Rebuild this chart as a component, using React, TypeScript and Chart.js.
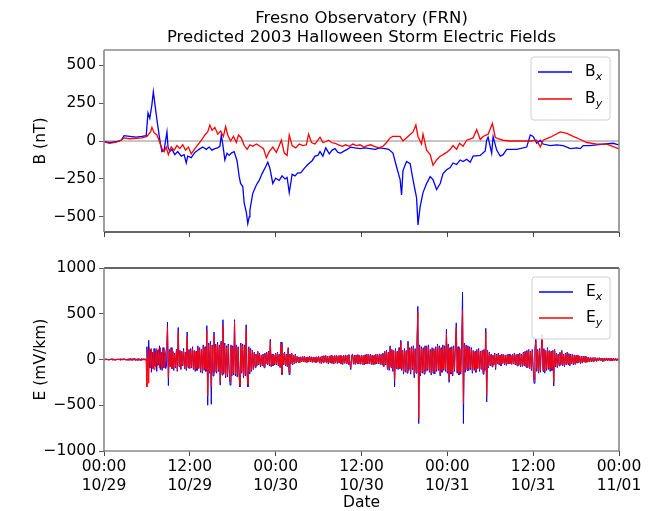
import React, { useEffect, useRef } from "react";
import { Chart, registerables } from "chart.js";

Chart.register(...registerables);

// ---------------- data ----------------
const titleLines = ["Fresno Observatory (FRN)", "Predicted 2003 Halloween Storm Electric Fields"];
const bAxisTitle = "B (nT)";
const eAxisTitle = "E (mV/km)";
const xAxisTitle = "Date";

const xTickHours = [0, 12, 24, 36, 48, 60, 72];
const xTickTimes = ["00:00", "12:00", "00:00", "12:00", "00:00", "12:00", "00:00"];
const xTickDates = ["10/29", "10/29", "10/30", "10/30", "10/31", "10/31", "11/01"];
const bTicks = [-500, -250, 0, 250, 500];
const eTicks = [-1000, -500, 0, 500, 1000];

// hours since 2003-10-29 00:00
const bxHours = [
  0, 0.8, 1.7, 2.4, 2.8, 3.6, 4.5, 5.3, 5.9, 6.15,
  6.4, 6.7, 6.9, 7.1, 7.4, 7.7, 7.9, 8.1, 8.4, 8.8,
  8.95, 9.2, 9.5, 9.9, 10.3, 10.8, 11.2, 11.5, 11.7, 12.2,
  12.7, 13.3, 13.8, 14.3, 14.7, 15.1, 15.5, 15.9, 16.2, 16.4,
  16.6, 16.9, 17.2, 17.5, 17.8, 18.2, 18.6, 18.9, 19.1, 19.4,
  19.6, 19.9, 20.1, 20.3, 20.4, 20.8, 21.3, 21.7, 22.1, 22.6,
  22.9, 23.2, 23.6, 24.0, 24.5, 24.9, 25.3, 25.6, 25.9, 26.3,
  26.7, 27.1, 27.5, 28.0, 28.5, 29.1, 29.5, 29.9, 30.2, 30.6,
  31.0, 31.5, 31.9, 32.3, 32.7, 33.1, 33.6, 34.0, 34.5, 35.1,
  35.8, 36.5, 37.2, 37.9, 38.6, 39.3, 39.8, 40.4, 40.9, 41.4,
  41.6, 41.8, 42.3, 42.8, 43.2, 43.7, 43.9, 44.2, 44.6, 45.1,
  45.6, 46.0, 46.5, 47.0, 47.4, 47.9, 48.4, 48.8, 49.3, 49.8,
  50.2, 50.7, 51.2, 51.6, 52.6, 53.3, 53.5, 53.7, 54.2, 54.4,
  54.9, 55.4, 55.8, 56.3, 57.7, 59.1, 59.6, 60.0, 60.5, 61.0,
  61.4, 62.4, 63.3, 64.2, 65.2, 66.1, 66.6, 67.0, 67.9, 69.8,
  71.2, 71.9, 72,
];
const bxValues = [
  -5, -10, -5, 5, 35, 30, 25, 30, 35, 185,
  150, 240, 325, 250, 140, 40, -20, -70, -60, 60,
  -40, -70, -55, -90, -70, -100, -90, -145, -100, -110,
  -75, -55, -40, -55, -40, -60, -50, -45, -35, 40,
  -20, -125, -80, -95, -80, -70, -130, -235, -280, -300,
  -410, -470, -545, -500, -455, -345, -290, -260, -215, -170,
  -140, -180, -280, -245, -260, -230, -250, -240, -340, -220,
  -230, -210, -210, -180, -155, -130, -100, -95, -70, -100,
  -45, -85, -60, -50, -75, -80, -65, -55, -40, -45,
  -50, -45, -50, -55, -45, -50, -55, -80, -170, -255,
  -355, -195, -135, -150, -255, -375, -553, -432, -340, -280,
  -235, -255, -320, -280, -215, -190, -175, -145, -155, -125,
  -135, -120, -140, -100, -95, -65, 5, 25, -80, 30,
  -60, -100, -90, -55, -55, -40, 40, 30, -15, 5,
  -20, -30, -25, -30, -50, -45, -50, -30, -30, -20,
  -15, -25, -20,
];

const byHours = [
  0, 0.8, 1.7, 2.4, 2.8, 3.6, 4.5, 5.3, 6.0, 6.5,
  6.7, 7.0, 7.4, 7.8, 8.1, 8.4, 8.7, 9.0, 9.4, 9.8,
  10.2, 10.6, 11.0, 11.4, 11.8, 12.2, 12.7, 13.2, 13.7, 14.1,
  14.5, 14.8, 15.1, 15.5, 15.9, 16.3, 16.7, 17.0, 17.3, 17.7,
  18.1, 18.5, 18.8, 19.2, 19.6, 20.0, 20.4, 20.8, 21.3, 21.8,
  22.3, 22.7, 23.1, 23.6, 24.1, 24.5, 24.8, 25.2, 25.6, 25.9,
  26.3, 26.8, 27.3, 27.8, 28.3, 28.6, 29.0, 29.5, 30.2, 30.6,
  31.0, 31.4, 31.8, 32.3, 32.8, 33.3, 33.8, 34.3, 34.8, 35.3,
  35.8, 36.3, 36.8, 37.3, 37.8, 38.4, 39.0, 39.5, 40.0, 40.4,
  41.4, 41.8, 42.5, 43.2, 43.6, 43.9, 44.4, 44.6, 45.1, 45.6,
  46.0, 46.5, 47.0, 47.4, 47.9, 48.4, 48.8, 49.3, 49.7, 50.2,
  50.7, 51.6, 52.1, 52.6, 53.0, 53.7, 54.3, 54.7, 55.1, 55.8,
  56.8, 58.2, 59.6, 60.5, 61.0, 61.4, 62.4, 63.8, 64.7, 65.6,
  66.6, 67.5, 68.9, 70.3, 71.9, 72,
];
const byValues = [
  -5, -15, -8, 5, 20, 15, 18, 20, 30, 60,
  90, 55, 40, -10, -50, -70, -40, -90, -40, -60,
  -30, -50, -25, -60, -40, -85, -50, -20, 10, 40,
  60, 105, 70, 90, 45, 65, 30, 95, 40, 0,
  30, -10, 40, 20, -30, -55, -25, -35, -20, -35,
  -50, -110, -70, -40, -75, -30, 5, -80, -95, 40,
  -30, -45, -20, -30, -25, 45, -10, -20, 25, -10,
  -5, 5, -10, -15, -25, -35, -25, -35, -20, -30,
  -25, -40, -30, -25, -35, -45, -35, -10, 20, 30,
  30, 0, 30, 60, 105, 30, -20, 45, -60, -90,
  -160, -125, -100, -90, -75, -55, -30, -55, -15, -35,
  5, 20, 75, 10, 30, 45, 115, 25, 15, 5,
  0, 0, 0, 5, -40, 5, 25, 60, 50, 30,
  10, -10, -20, -20, -50, -50,
];

// electric field samples every 7.5 minutes (one row = 3 hours)
const E_STEP_HOURS = 0.125;
const exValues = [
  5, -7, 8, -4, 6, -9, 4, -6, 10, -5, 7, -8, 5, -10, 6, -4, 8, -7, 9, -5, 6, -8, 11, -6,
  7, -9, 5, -11, 8, -6, 12, -10, 9, -7, 14, -12, 6, -8, 10, -9, 7, -13, 11, -8, 9, -6, 8, -10,
  140, -120, 210, -90, 110, -140, 80, -100, 120, -70, 90, -130, 100, -60, 150, -110, 80, -120, 130, -90, 70, -100, -60, 410,
  -285, 110, -80, 130, -100, 90, -120, 70, -90, 110, -130, 350, -80, 100, -110, 90, -70, 120, -100, 80, -120, 300, -90, 110,
  -100, 120, -90, 140, -110, 100, -130, 90, -120, 150, -100, 130, -140, 110, -150, 160, -120, 140, -130, 370, -500, 180, -150, 200,
  -490, 160, -180, 300, -140, 170, -150, 190, -130, 160, -280, 200, -170, 435, -160, 180, -200, 150, -190, 170, -140, -280, 160, -180,
  150, -170, 435, -180, 160, -190, 140, -170, -300, 180, -150, 170, -200, 160, -180, 380, -170, -300, 140, -160, 120, -130, 100, -110,
  80, -90, 60, -70, 90, -60, 70, -80, 50, -70, 60, -90, 70, -50, 80, -60, 90, -70, 220, -80, 60, -70, 50, -60,
  70, -60, 80, -70, 60, -90, 190, -165, 70, -60, 80, -70, 60, -80, 130, -165, 60, -50, 70, -60, 50, -45, 60, -40,
  35, -30, 28, -35, 30, -25, 32, -28, 35, -30, 25, -32, 30, -28, 35, -25, 30, -33, 28, -30, 25, -35, 30, -28,
  35, -40, 30, -45, 38, -35, 42, -30, 45, -40, 35, -48, 40, -38, 45, -42, 38, -50, 45, -40, 50, -45, 42, -38,
  45, -50, 40, -55, 48, -42, 50, -45, 45, -52, 55, -48, -110, 50, 58, -52, 48, -55, 50, -45, 55, -50, 45, -52,
  50, -55, 45, -60, 52, -48, 58, -50, 55, -45, 60, -55, 50, -58, 45, -52, 60, -50, 55, -48, 62, -55, 58, -60,
  70, -80, 90, -60, 100, -110, 80, -120, 150, -90, 110, -130, 100, -300, 120, -100, 90, -110, 130, -100, 210, -120, 100, -160,
  120, -140, 100, -150, 200, -120, 130, -160, 140, -110, 150, -200, 120, -150, 170, 580, -700, 160, -180, 140, -150, 130, -160, 150,
  -130, 150, -120, 160, -140, 110, -170, 130, -150, 120, -160, 140, -130, 170, -120, 150, -180, 130, -140, 160, -120, 150, -130, 330,
  -150, 170, -250, 130, -160, 140, -180, 150, -130, 160, 400, -150, 140, -170, 120, -160, 150, 735, -700, 180, -140, 160, -120, 150,
  -120, 140, -110, 130, -150, 100, -120, 90, -140, 110, -100, 120, -130, 90, -110, 100, -160, 110, -120, 340, -465, 100, -90, 80,
  -70, 60, -80, 50, -60, 70, -110, 60, -50, 70, -60, 50, -70, 60, -45, 55, -60, 50, -65, 55, -50, 60, -45, 50,
  -55, 60, -50, 70, -60, 55, -70, 60, -65, 70, -80, 60, -75, 80, -70, 90, -85, 100, -90, 110, -100, 90, -120, 110,
  -100, -260, 120, 230, -130, 110, -150, 120, -140, 110, 275, -130, 120, -150, 100, -120, 130, -110, 100, -130, 90, -120, 100, -290,
  110, -80, 70, -90, 60, -70, 80, -60, 100, -70, 60, -80, 70, -60, 80, -55, 65, -70, 60, -50, 55, -60, 50, -55,
  45, -40, 50, -35, 40, -45, 35, -40, 38, -30, 35, -32, 28, -30, 25, -28, 22, -25, 20, -24, 22, -18, 20, -22,
  18, -15, 20, -12, 16, -18, 14, -20, 15, -12, 18, -14, 16, -12, 14, -15, 12, -16, 14, -10, 12, -14, 10, -12, 8,
];
const eyValues = [
  -6, 8, -5, 9, -7, 5, -8, 6, -4, 9, -6, 7, -9, 5, -7, 8, -5, 6, -8, 7, -5, 9, -6, 8,
  -8, 6, -10, 9, -7, 11, -9, 8, -12, 10, -6, 9, -11, 7, -8, 12, -9, 6, -10, 8, -7, 10, -9, 7,
  -300, 110, -260, 130, -90, 120, -100, 80, -110, 90, -80, 120, -70, 110, -90, 130, -100, 70, -90, 110, -80, 90, 120, 350,
  -200, 90, -70, 110, -90, 80, -100, 60, -80, 100, -110, 300, -70, 90, -100, 80, -60, 100, -90, 70, -100, 250, -80, 100,
  -90, 100, -80, 120, -100, 90, -110, 80, -100, 130, -90, 110, -120, 100, -130, 140, -100, 120, -110, 320, -400, 160, -130, 170,
  -300, 140, -160, 250, -120, 150, -130, 170, -110, 140, -250, 180, -150, 380, -140, 160, -180, 130, -170, 150, -120, -240, 140, -160,
  130, -150, 420, -160, 140, -170, 120, -150, -280, 160, -130, 150, -180, 140, -160, 330, -150, -270, 120, -140, 100, -110, 90, -100,
  70, -80, 50, -60, 80, -50, 60, -70, 45, -60, 50, -80, 60, -45, 70, -50, 80, -60, 200, -70, 50, -60, 45, -50,
  60, -50, 70, -60, 50, -80, 170, -140, 60, -50, 70, -60, 50, -70, 110, -140, 50, -45, 60, -50, 45, -40, 50, -35,
  30, -26, 24, -30, 26, -22, 28, -25, 30, -26, 22, -28, 26, -24, 30, -22, 26, -28, 24, -26, 22, -30, 26, -24,
  30, -35, 26, -40, 34, -30, 36, -26, 40, -35, 30, -42, 35, -33, 40, -36, 34, -44, 40, -35, 44, -40, 36, -34,
  40, -44, 35, -48, 42, -36, 44, -40, 40, -46, 48, -42, -90, 44, 50, -46, 42, -48, 44, -40, 48, -44, 40, -46,
  44, -48, 40, -52, 46, -42, 50, -44, 48, -40, 52, -48, 44, -50, 40, -46, 52, -44, 48, -42, 54, -48, 50, -52,
  60, -70, 80, -50, 90, -100, 70, -100, 130, -80, 100, -110, 90, -230, 100, -90, 80, -100, 110, -90, 190, -100, 90, -140,
  100, -120, 90, -130, 170, -100, 110, -140, 120, -90, 130, -170, 100, -130, 150, 520, -650, 140, -160, 120, -130, 110, -140, 130,
  -110, 130, -100, 140, -120, 90, -150, 110, -130, 100, -140, 120, -110, 150, -100, 130, -160, 110, -120, 140, -100, 130, -110, 280,
  -130, 150, -220, 110, -140, 120, -160, 130, -110, 140, 350, -130, 120, -150, 100, -140, 130, 540, -480, 160, -120, 140, -100, 130,
  -100, 120, -90, 110, -130, 90, -100, 80, -120, 100, -90, 100, -110, 80, -100, 90, -140, 100, -100, 300, -400, 90, -80, 70,
  -60, 50, -70, 45, -50, 60, -90, 50, -45, 60, -50, 45, -60, 50, -40, 48, -50, 45, -55, 48, -44, 50, -40, 45,
  -48, 50, -45, 60, -52, 48, -60, 52, -56, 60, -70, 52, -65, 70, -60, 80, -75, 90, -80, 95, -90, 80, -100, 95,
  -90, -220, 100, 200, -110, 95, -130, 100, -120, 95, 240, -110, 100, -130, 90, -100, 110, -95, 90, -110, 80, -100, 90, -250,
  100, -70, 60, -80, 50, -60, 70, -50, 85, -60, 50, -70, 60, -50, 70, -48, 55, -60, 50, -44, 48, -50, 44, -48,
  40, -35, 44, -30, 36, -40, 30, -35, 33, -26, 30, -28, 24, -26, 22, -24, 20, -22, 18, -20, 19, -16, 18, -19,
  16, -13, 18, -10, 14, -16, 12, -18, 13, -10, 16, -12, 14, -10, 12, -13, 10, -14, 12, -9, 10, -12, 9, -10, 6,
];

const bLegend = [
  { main: "B", sub: "x", color: "#0000ff" },
  { main: "B", sub: "y", color: "#ff0000" },
];
const eLegend = [
  { main: "E", sub: "x", color: "#0000ff" },
  { main: "E", sub: "y", color: "#ff0000" },
];

// ---------------- styling ----------------
const FONT = "'DejaVu Sans', 'Liberation Sans', sans-serif";
const TICK_SIZE = 15.5;
const W = 656;
const PLOT_LEFT = 104;
const PLOT_RIGHT = 619;
const TOP_H = 250;
const BOT_H = 261;

function fmtNum(v: number) {
  return v < 0 ? "\u2212" + String(-v) : String(v);
}

function drawSpines(ctx: CanvasRenderingContext2D, a: any, colors: { top: string; bottom: string; left: string; right: string }) {
  ctx.save();
  ctx.lineWidth = 1.3;
  ctx.strokeStyle = colors.top;
  ctx.beginPath(); ctx.moveTo(a.left, a.top); ctx.lineTo(a.right, a.top); ctx.stroke();
  ctx.strokeStyle = colors.bottom;
  ctx.beginPath(); ctx.moveTo(a.left, a.bottom); ctx.lineTo(a.right, a.bottom); ctx.stroke();
  ctx.lineWidth = 1.6;
  ctx.strokeStyle = colors.left;
  ctx.beginPath(); ctx.moveTo(a.left, a.top); ctx.lineTo(a.left, a.bottom); ctx.stroke();
  ctx.strokeStyle = colors.right;
  ctx.beginPath(); ctx.moveTo(a.right, a.top); ctx.lineTo(a.right, a.bottom); ctx.stroke();
  ctx.restore();
}

function drawLegend(ctx: CanvasRenderingContext2D, left: number, top: number, w: number, h: number, rows: number[], entries: { main: string; sub: string; color: string }[]) {
  ctx.save();
  const r = 3;
  ctx.beginPath();
  ctx.moveTo(left + r, top);
  ctx.lineTo(left + w - r, top);
  ctx.quadraticCurveTo(left + w, top, left + w, top + r);
  ctx.lineTo(left + w, top + h - r);
  ctx.quadraticCurveTo(left + w, top + h, left + w - r, top + h);
  ctx.lineTo(left + r, top + h);
  ctx.quadraticCurveTo(left, top + h, left, top + h - r);
  ctx.lineTo(left, top + r);
  ctx.quadraticCurveTo(left, top, left + r, top);
  ctx.closePath();
  ctx.fillStyle = "rgba(255,255,255,0.85)";
  ctx.fill();
  ctx.strokeStyle = "#d0d0d0";
  ctx.lineWidth = 1;
  ctx.stroke();
  entries.forEach((e, i) => {
    const y = top + rows[i];
    ctx.strokeStyle = e.color;
    ctx.lineWidth = 1.3;
    ctx.beginPath();
    ctx.moveTo(left + 7, y);
    ctx.lineTo(left + 41, y);
    ctx.stroke();
    ctx.fillStyle = "#000";
    ctx.textAlign = "left";
    ctx.textBaseline = "middle";
    ctx.font = `${TICK_SIZE}px ${FONT}`;
    const tx = left + 54;
    ctx.fillText(e.main, tx, y);
    const mw = ctx.measureText(e.main).width;
    ctx.font = `italic 11px ${FONT}`;
    ctx.fillText(e.sub, tx + mw, y + 5);
  });
  ctx.restore();
}

function drawRotated(ctx: CanvasRenderingContext2D, text: string, x: number, y: number) {
  ctx.save();
  ctx.translate(x, y);
  ctx.rotate(-Math.PI / 2);
  ctx.font = `${TICK_SIZE}px ${FONT}`;
  ctx.fillStyle = "#000";
  ctx.textAlign = "center";
  ctx.textBaseline = "middle";
  ctx.fillText(text, 0, 0);
  ctx.restore();
}

function yScale(min: number, max: number, ticks: number[]) {
  return {
    type: "linear" as const,
    min,
    max,
    afterFit: (s: any) => { s.width = PLOT_LEFT; },
    afterBuildTicks: (s: any) => { s.ticks = ticks.map((v) => ({ value: v })); },
    border: { display: false },
    grid: { drawOnChartArea: false, drawTicks: true, tickLength: 5, tickColor: "#555", tickWidth: 1 },
    ticks: { color: "#000", padding: 3, font: { family: FONT, size: TICK_SIZE }, callback: (v: any) => fmtNum(Number(v)) },
  };
}

function xScale(height: number, showLabels: boolean) {
  return {
    type: "linear" as const,
    min: 0,
    max: 72,
    afterFit: (s: any) => { s.height = height; },
    afterBuildTicks: (s: any) => { s.ticks = xTickHours.map((v) => ({ value: v })); },
    border: { display: false },
    grid: { drawOnChartArea: false, drawTicks: true, tickLength: 5, tickColor: "#444", tickWidth: 1 },
    ticks: {
      display: showLabels,
      color: "#000",
      padding: 2,
      autoSkip: false,
      maxRotation: 0,
      font: { family: FONT, size: TICK_SIZE },
      callback: (_v: any, i: number) => [xTickTimes[i], xTickDates[i]],
    },
  };
}

export default function App() {
  const topRef = useRef<HTMLCanvasElement>(null);
  const botRef = useRef<HTMLCanvasElement>(null);

  useEffect(() => {
    const bx = bxHours.map((h, i) => ({ x: h, y: bxValues[i] }));
    const by = byHours.map((h, i) => ({ x: h, y: byValues[i] }));
    const ex = exValues.map((v, i) => ({ x: i * E_STEP_HOURS, y: v }));
    const ey = eyValues.map((v, i) => ({ x: i * E_STEP_HOURS, y: v }));

    const topPlugin = {
      id: "topDecor",
      beforeDatasetsDraw(chart: any) {
        const { ctx, chartArea: a } = chart;
        const y0 = chart.scales.y.getPixelForValue(0);
        ctx.save();
        ctx.strokeStyle = "#8c8c8c";
        ctx.lineWidth = 1;
        ctx.beginPath();
        ctx.moveTo(a.left, y0);
        ctx.lineTo(a.right, y0);
        ctx.stroke();
        ctx.restore();
      },
      afterDraw(chart: any) {
        const { ctx, chartArea: a } = chart;
        drawSpines(ctx, a, { top: "#888", bottom: "#333", left: "#888", right: "#888" });
        ctx.save();
        ctx.font = `16.5px ${FONT}`;
        ctx.fillStyle = "#000";
        ctx.textAlign = "center";
        ctx.textBaseline = "middle";
        const cx = (a.left + a.right) / 2;
        ctx.fillText(titleLines[0], cx, 19);
        ctx.fillText(titleLines[1], cx, 38);
        ctx.restore();
        drawRotated(ctx, bAxisTitle, 41, (a.top + a.bottom) / 2);
        drawLegend(ctx, 531, 57, 79, 63, [15, 42], bLegend);
      },
    };

    const botPlugin = {
      id: "botDecor",
      afterDraw(chart: any) {
        const { ctx, chartArea: a } = chart;
        drawSpines(ctx, a, { top: "#333", bottom: "#888", left: "#888", right: "#888" });
        drawRotated(ctx, eAxisTitle, 41, (a.top + a.bottom) / 2);
        ctx.save();
        ctx.font = `${TICK_SIZE}px ${FONT}`;
        ctx.fillStyle = "#000";
        ctx.textAlign = "center";
        ctx.textBaseline = "middle";
        ctx.fillText(xAxisTitle, (a.left + a.right) / 2, 253);
        ctx.restore();
        drawLegend(ctx, 532, 27, 78, 62, [15, 41], eLegend);
      },
    };

    const common = {
      responsive: false,
      maintainAspectRatio: false,
      animation: false as const,
      devicePixelRatio: 1,
      events: [] as any[],
      plugins: { legend: { display: false }, title: { display: false }, tooltip: { enabled: false } },
      elements: { point: { radius: 0 }, line: { tension: 0 } },
    };

    const topChart = new Chart(topRef.current!, {
      type: "line",
      data: {
        datasets: [
          { label: "Bx", data: bx, borderColor: "#0000ff", borderWidth: 1.3, pointRadius: 0, order: 2 },
          { label: "By", data: by, borderColor: "#ff0000", borderWidth: 1.3, pointRadius: 0, order: 1 },
        ],
      },
      options: {
        ...common,
        layout: { padding: { left: 0, right: W - PLOT_RIGHT, top: 50, bottom: 0 } },
        scales: { x: xScale(TOP_H - 232, false), y: yScale(-600, 600, bTicks) },
      } as any,
      plugins: [topPlugin],
    });

    const botChart = new Chart(botRef.current!, {
      type: "line",
      data: {
        datasets: [
          { label: "Ex", data: ex, borderColor: "#0000ff", borderWidth: 1, pointRadius: 0, order: 2 },
          { label: "Ey", data: ey, borderColor: "#ff0000", borderWidth: 1, pointRadius: 0, order: 1 },
        ],
      },
      options: {
        ...common,
        layout: { padding: { left: 0, right: W - PLOT_RIGHT, top: 18, bottom: 0 } },
        scales: { x: xScale(BOT_H - (451 - TOP_H), true), y: yScale(-1000, 1000, eTicks) },
      } as any,
      plugins: [botPlugin],
    });

    return () => {
      topChart.destroy();
      botChart.destroy();
    };
  }, []);

  return (
    <div style={{ position: "absolute", left: 0, top: 0, width: W, height: 511, background: "#fff" }}>
      <canvas ref={topRef} width={W} height={TOP_H} style={{ position: "absolute", left: 0, top: 0, width: W, height: TOP_H }} />
      <canvas ref={botRef} width={W} height={BOT_H} style={{ position: "absolute", left: 0, top: TOP_H, width: W, height: BOT_H }} />
    </div>
  );
}
